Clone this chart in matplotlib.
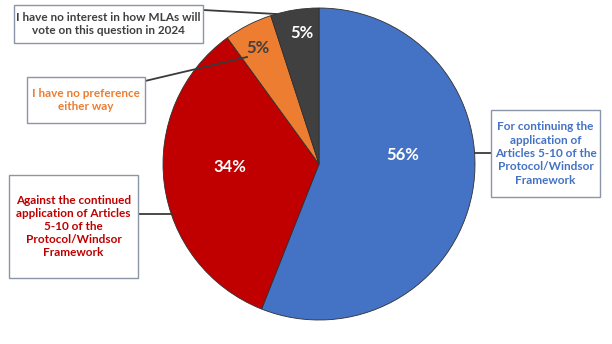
import matplotlib.pyplot as plt
from matplotlib.patches import Rectangle

plt.rcParams['font.family'] = ['Lato', 'DejaVu Sans']

# survey shares, clockwise from 12 o'clock
values = [56, 34, 5, 5]
colors = ['#4472C4', '#C00000', '#ED7D31', '#404040']
pct_colors = ['white', 'white', '#404040', 'white']
pct_pos = [(403, 155), (230, 167), (258, 48), (302, 33)]

labels = [
    'For continuing the\napplication of\nArticles 5-10 of the\nProtocol/Windsor\nFramework',
    'Against the continued\napplication of Articles\n5-10 of the\nProtocol/Windsor\nFramework',
    'I have no preference\neither way',
    'I have no interest in how MLAs will\nvote on this question in 2024',
]
# box extents (x0, y0, x1, y1) in pixels from top-left
boxes = [(491, 110, 600, 197), (9, 175, 138, 278), (27, 77, 145, 123), (14, 5, 203, 43)]
# leader line from box to slice
leaders = [[(475, 153), (491, 153)], [(138, 214), (172, 214)],
           [(145, 81), (247, 57)], [(203, 10), (276, 14)]]

W, H = 612, 344
fig = plt.figure(figsize=(W / 100, H / 100), dpi=100)
ax = fig.add_axes([0, 0, 1, 1])

def fy(y):
    return H - y

ax.pie(values, colors=colors, startangle=90, counterclock=False,
       center=(319, fy(164)), radius=156, frame=True,
       wedgeprops=dict(edgecolor='#303030', linewidth=0.6))
ax.set_xlim(0, W)
ax.set_ylim(0, H)
ax.set_aspect('equal')
ax.axis('off')

for v, c, (x, y) in zip(values, pct_colors, pct_pos):
    ax.text(x, fy(y), f'{v}%', color=c, fontsize=12, fontweight='bold',
            ha='center', va='center')

for lab, c, (x0, y0, x1, y1), pts in zip(labels, colors, boxes, leaders):
    ax.plot([p[0] for p in pts], [fy(p[1]) for p in pts], color='#3a3a3a', lw=1.3, zorder=1)
    ax.add_patch(Rectangle((x0, fy(y1)), x1 - x0, y1 - y0, facecolor='white',
                           edgecolor='#8A96A8', lw=1.0, zorder=3))
    ax.text((x0 + x1) / 2, fy((y0 + y1) / 2), lab, color=c, fontsize=8.5,
            fontweight='bold', ha='center', va='center', linespacing=1.25, zorder=4)

fig.savefig('out.png', dpi=100)
